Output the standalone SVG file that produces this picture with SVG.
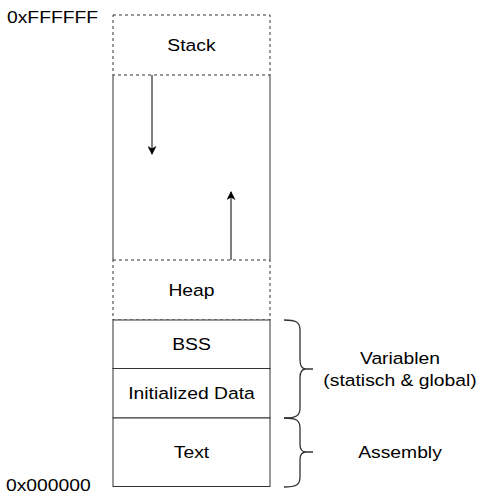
<svg xmlns="http://www.w3.org/2000/svg" width="480" height="494" viewBox="0 0 480 494">
  <style>
    .seg { fill: #ffffff; stroke: #333333; stroke-width: 1; }
    .dash { stroke-dasharray: 3 3; }
    .lbl, .addr { font-family: Helvetica, "Liberation Sans", Arial, sans-serif; font-size: 16.5px; fill: #000000; transform-box: fill-box; transform: scaleX(1.17); }
    .lbl { text-anchor: middle; transform-origin: center; }
    .addr { transform-origin: left center; }
    .edge { fill: none; stroke: #000000; stroke-width: 1; }
    .brace { fill: none; stroke: #333333; stroke-width: 1.3; }
  </style>
  <defs>
    <marker id="arrowhead" viewBox="0 0 10 10" refX="9" refY="5" markerWidth="9" markerHeight="9" markerUnits="userSpaceOnUse" orient="auto">
      <path d="M0,0 L10,5 L0,10 L3,5 Z" fill="#000000"/>
    </marker>
  </defs>

  <!-- address labels -->
  <text class="addr" x="7" y="23">0xFFFFFF</text>
  <text class="addr" x="6" y="491">0x000000</text>

  <!-- free space between stack and heap -->
  <g id="free">
    <line x1="113" y1="75" x2="113" y2="260" stroke="#333333"/>
    <line x1="270" y1="75" x2="270" y2="260" stroke="#333333"/>
  </g>

  <g id="stack">
    <rect class="seg dash" x="113" y="15" width="157" height="60"/>
    <text class="lbl" x="191.5" y="51">Stack</text>
  </g>

  <g id="heap">
    <rect class="seg dash" x="113" y="260" width="157" height="60"/>
    <text class="lbl" x="191.5" y="296">Heap</text>
  </g>

  <g id="bss">
    <rect class="seg" x="113" y="320" width="157" height="48.5"/>
    <text class="lbl" x="191.5" y="350">BSS</text>
  </g>

  <g id="data">
    <rect class="seg" x="113" y="368.5" width="157" height="49.5"/>
    <text class="lbl" x="191.5" y="399">Initialized Data</text>
  </g>

  <g id="text-seg">
    <rect class="seg" x="113" y="418" width="157" height="68.5"/>
    <text class="lbl" x="191.5" y="458">Text</text>
  </g>

  <g id="connectors">
    <line class="edge" x1="152" y1="75" x2="152" y2="154" marker-end="url(#arrowhead)"/>
    <line class="edge" x1="231" y1="260" x2="231" y2="192" marker-end="url(#arrowhead)"/>
  </g>

  <g id="brace-vars">
    <path class="brace" d="M284,320 C296,320 300,322 300,330 L300,360 C300,366 302,369 306,369 L313,369 M306,369 C302,369 300,372 300,378 L300,408 C300,416 296,418 284,418"/>
    <text class="lbl" x="400" y="364">Variablen</text>
    <text class="lbl" x="400" y="386">(statisch &amp; global)</text>
  </g>

  <g id="brace-asm">
    <path class="brace" d="M284,418 C296,418 300,420 300,428 L300,444 C300,449 302,452 306,452 L313,452 M306,452 C302,452 300,455 300,460 L300,477 C300,485 296,487 284,487"/>
    <text class="lbl" x="400" y="458">Assembly</text>
  </g>
</svg>
